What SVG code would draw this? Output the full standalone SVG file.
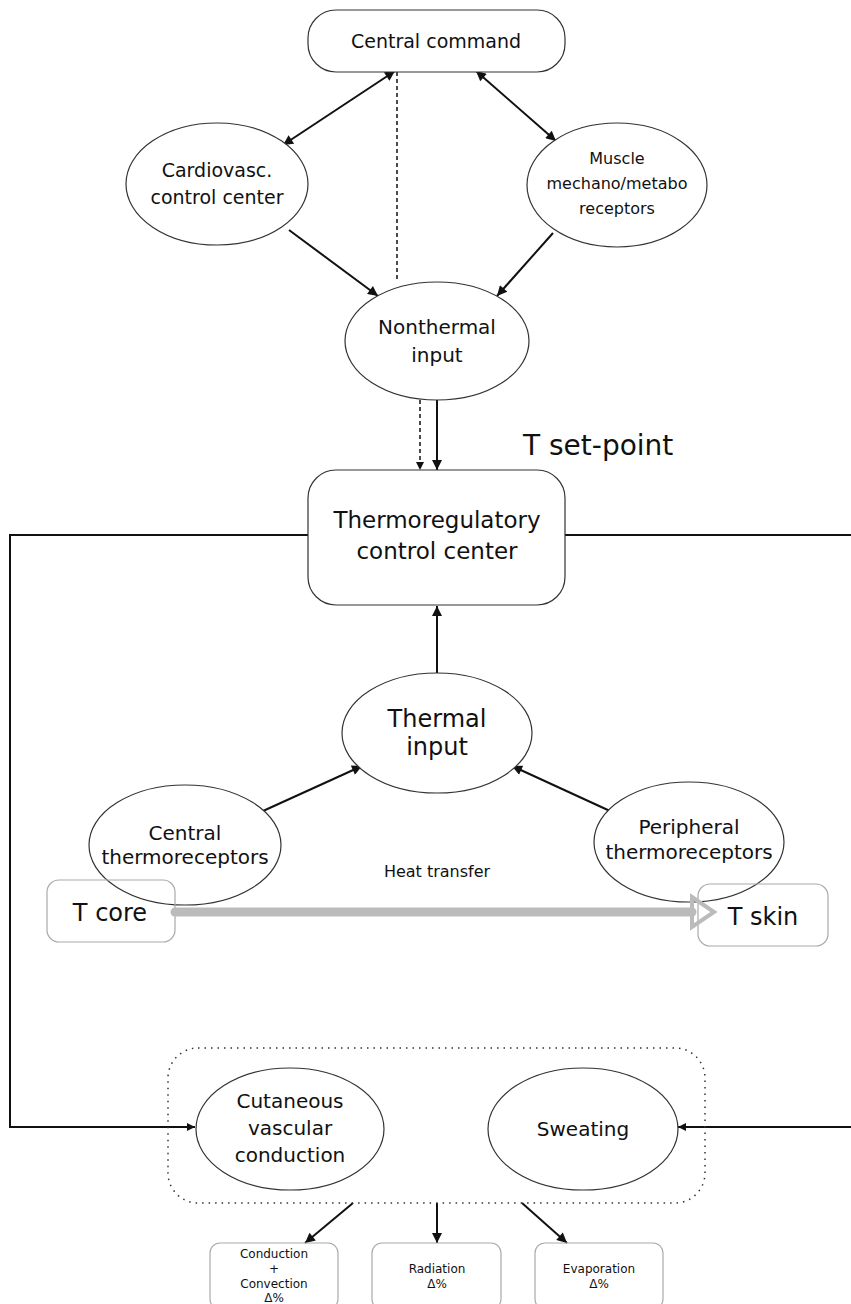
<svg xmlns="http://www.w3.org/2000/svg" width="851" height="1304" viewBox="0 0 851 1304">
<defs>
<style>
text{font-family:"DejaVu Sans",Verdana,sans-serif;fill:#111;text-anchor:middle}
.n{fill:#fff;stroke:#333;stroke-width:1.2}
.lt{fill:none;stroke:#aaa;stroke-width:1.2}
.c{fill:none;stroke:#111;stroke-width:2}
.d{fill:none;stroke:#111;stroke-width:1.5;stroke-dasharray:4,3}
</style>
<marker id="ah" viewBox="0 0 10 10" refX="10" refY="5" markerWidth="12" markerHeight="10" markerUnits="userSpaceOnUse" orient="auto-start-reverse">
<path d="M0,0 L10,5 L0,10 z" fill="#111"/>
</marker>
<marker id="ahs" viewBox="0 0 10 10" refX="10" refY="5" markerWidth="9" markerHeight="8" markerUnits="userSpaceOnUse" orient="auto">
<path d="M0,0 L10,5 L0,10 z" fill="#111"/>
</marker>
</defs>
<rect width="851" height="1304" fill="#fff"/>

<g id="connectors">
<line class="d" x1="397" y1="72" x2="397" y2="282"/>
<line class="c" x1="283" y1="145" x2="395" y2="71" marker-start="url(#ah)" marker-end="url(#ah)"/>
<line class="c" x1="556" y1="141" x2="476" y2="71" marker-start="url(#ah)" marker-end="url(#ah)"/>
<line class="c" x1="289" y1="230" x2="378" y2="296" marker-end="url(#ah)"/>
<line class="c" x1="553" y1="233" x2="497" y2="296" marker-end="url(#ah)"/>
<line class="d" x1="420" y1="400" x2="420" y2="470" marker-end="url(#ahs)"/>
<line class="c" x1="437" y1="400" x2="437" y2="470" marker-end="url(#ah)"/>
<line class="c" x1="437" y1="673" x2="437" y2="606" marker-end="url(#ah)"/>
<line class="c" x1="263" y1="811" x2="362" y2="766" marker-end="url(#ah)"/>
<line class="c" x1="610" y1="811" x2="512" y2="766" marker-end="url(#ah)"/>
<polyline class="c" points="308,535 10,535 10,1127 195,1127" marker-end="url(#ahs)"/>
<line class="c" x1="565" y1="535" x2="851" y2="535"/>
<line class="c" x1="851" y1="1127" x2="678" y2="1127" marker-end="url(#ahs)"/>
<line class="c" x1="353" y1="1203" x2="305" y2="1243" marker-end="url(#ah)"/>
<line class="c" x1="437" y1="1203" x2="437" y2="1243" marker-end="url(#ah)"/>
<line class="c" x1="522" y1="1203" x2="567" y2="1243" marker-end="url(#ah)"/>
</g>

<g id="central-command">
<rect class="n" x="308" y="10" width="257" height="62" rx="28"/>
<text x="436" y="48" font-size="19">Central command</text>
</g>
<g id="cardiovasc">
<ellipse class="n" cx="217" cy="184" rx="91" ry="61"/>
<text x="217" y="177" font-size="19">Cardiovasc.</text>
<text x="217" y="204" font-size="19">control center</text>
</g>
<g id="muscle">
<ellipse class="n" cx="617" cy="185" rx="90" ry="62"/>
<text x="617" y="164" font-size="16">Muscle</text>
<text x="617" y="189" font-size="16">mechano/metabo</text>
<text x="617" y="214" font-size="16">receptors</text>
</g>
<g id="nonthermal">
<ellipse class="n" cx="437" cy="341" rx="92" ry="59"/>
<text x="437" y="334" font-size="20">Nonthermal</text>
<text x="437" y="362" font-size="20">input</text>
</g>
<g id="setpoint">
<text x="523" y="455" font-size="28" style="text-anchor:start">T set-point</text>
</g>
<g id="thermoregulatory">
<rect class="n" x="308" y="470" width="257" height="135" rx="28"/>
<text x="437" y="528" font-size="23">Thermoregulatory</text>
<text x="437" y="559" font-size="23">control center</text>
</g>
<g id="thermal-input">
<ellipse class="n" cx="437" cy="733" rx="95" ry="60"/>
<text x="437" y="727" font-size="24">Thermal</text>
<text x="437" y="755" font-size="24">input</text>
</g>
<g id="central-thermo">
<ellipse class="n" cx="185" cy="845" rx="96" ry="60"/>
<text x="185" y="840" font-size="20">Central</text>
<text x="185" y="864" font-size="20">thermoreceptors</text>
</g>
<g id="peripheral-thermo">
<ellipse class="n" cx="689" cy="842" rx="95" ry="60"/>
<text x="689" y="834" font-size="20">Peripheral</text>
<text x="689" y="859" font-size="20">thermoreceptors</text>
</g>
<g id="t-core">
<rect class="lt" x="47" y="880" width="128" height="62" rx="12"/>
<text x="110" y="921" font-size="24">T core</text>
</g>
<g id="t-skin">
<rect class="lt" x="698" y="884" width="130" height="62" rx="12"/>
<text x="763" y="925" font-size="24">T skin</text>
</g>
<g id="heat-transfer">
<line x1="175" y1="912" x2="692" y2="912" stroke="#bbb" stroke-width="9" stroke-linecap="round"/>
<polygon points="692,897 714,912 692,927" fill="none" stroke="#bbb" stroke-width="4" stroke-linejoin="miter"/>
<text x="437" y="877" font-size="16">Heat transfer</text>
</g>
<g id="effector-group">
<rect x="168" y="1048" width="537" height="155" rx="30" fill="none" stroke="#333" stroke-width="1.5" stroke-dasharray="1.5,5"/>
</g>
<g id="cutaneous">
<ellipse class="n" cx="290" cy="1129" rx="94" ry="61"/>
<text x="290" y="1108" font-size="20">Cutaneous</text>
<text x="290" y="1135" font-size="20">vascular</text>
<text x="290" y="1162" font-size="20">conduction</text>
</g>
<g id="sweating">
<ellipse class="n" cx="583" cy="1129" rx="95" ry="61"/>
<text x="583" y="1136" font-size="20">Sweating</text>
</g>
<g id="conduction">
<rect class="lt" x="210" y="1243" width="128" height="66" rx="10"/>
<text x="274" y="1258" font-size="12">Conduction</text>
<text x="274" y="1273" font-size="12">+</text>
<text x="274" y="1288" font-size="12">Convection</text>
<text x="274" y="1302" font-size="12">Δ%</text>
</g>
<g id="radiation">
<rect class="lt" x="372" y="1243" width="129" height="66" rx="10"/>
<text x="437" y="1273" font-size="12">Radiation</text>
<text x="437" y="1288" font-size="12">Δ%</text>
</g>
<g id="evaporation">
<rect class="lt" x="535" y="1243" width="128" height="66" rx="10"/>
<text x="599" y="1273" font-size="12">Evaporation</text>
<text x="599" y="1288" font-size="12">Δ%</text>
</g>
</svg>
